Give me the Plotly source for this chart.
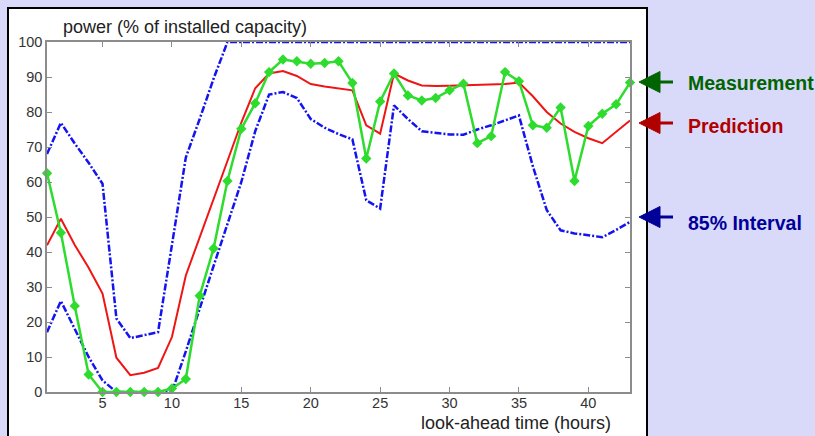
import plotly.graph_objects as go

hours = list(range(1, 44))

measurement = [62.5, 45.5, 24.6, 5.0, 0, 0, 0, 0, 0, 1.0, 3.7, 27.5, 41.0, 60.3, 75.2,
               82.5, 91.4, 95.0, 94.5, 93.8, 94.0, 94.5, 88.3, 66.7, 83.0, 91.0, 84.7,
               83.3, 84.0, 86.2, 88.1, 71.1, 73.1, 91.4, 88.8, 76.2, 75.5, 81.3, 60.3,
               76.0, 79.5, 82.2, 88.4]

prediction = [41.9, 49.5, 42.0, 35.5, 28.1, 9.8, 4.8, 5.5, 6.9, 15.7, 33.3, 44.0, 55.0,
              66.0, 77.0, 86.8, 91.0, 91.7, 90.3, 88.0, 87.3, 86.7, 86.2, 76.2, 73.8,
              91.0, 89.0, 87.6, 87.4, 87.5, 87.6, 87.7, 87.8, 88.0, 88.4, 84.5, 80.0,
              76.7, 74.3, 72.5, 71.1, 74.3, 77.6]

upper = [68.0, 76.9, 71.0, 65.5, 59.5, 21.0, 15.4, 16.2, 17.1, 42.0, 67.0, 78.0, 89.5,
         100, 100, 100, 100, 100, 100, 100, 100, 100, 100, 100, 100, 100, 100, 100,
         100, 100, 100, 100, 100, 100, 100, 100, 100, 100, 100, 100, 100, 100, 100]

lower = [17.1, 26.0, 18.0, 10.0, 3.3, 0, 0, 0, 0, 0, 11.6, 24.0, 36.0, 48.0, 60.0,
         74.5, 85.0, 85.7, 84.0, 78.0, 75.5, 73.7, 72.2, 54.8, 52.4, 81.9, 78.0, 74.5,
         74.0, 73.6, 73.5, 75.0, 76.2, 77.6, 79.0, 64.5, 52.0, 46.2, 45.3, 44.8, 44.2,
         46.3, 48.6]

x_ticks = [5, 10, 15, 20, 25, 30, 35, 40]
y_ticks = [0, 10, 20, 30, 40, 50, 60, 70, 80, 90, 100]

chart_title = "power (% of installed capacity)"
x_title = "look-ahead time (hours)"
labels = ["Measurement", "Prediction", "85% Interval"]
label_colors = ["#006400", "#b00000", "#000099"]

W, H = 815, 436
L, R, T, B = 47, 630, 42, 392
PW, PH = R - L, B - T


def px(x):
    return (x - L) / PW


def py(y):
    return (B - y) / PH


blue = "#1414f0"
dash_pat = "7px,2px,2px,2px"

fig = go.Figure()
fig.add_trace(go.Scatter(x=hours, y=upper, mode="lines",
                         line=dict(color=blue, width=2.5, dash=dash_pat), cliponaxis=False))
fig.add_trace(go.Scatter(x=hours, y=lower, mode="lines",
                         line=dict(color=blue, width=2.5, dash=dash_pat), cliponaxis=False))
fig.add_trace(go.Scatter(x=hours, y=prediction, mode="lines",
                         line=dict(color="#f01515", width=2)))
fig.add_trace(go.Scatter(x=hours, y=measurement, mode="lines+markers",
                         line=dict(color="#2edc2e", width=2.5),
                         marker=dict(symbol="diamond", size=8, color="#2edc2e"),
                         cliponaxis=False))

shapes = [
    dict(type="rect", xref="paper", yref="paper", layer="below",
         x0=px(8), x1=px(647), y0=py(8), y1=py(460),
         fillcolor="white", line=dict(color="black", width=2)),
]

arrow_tips = [82, 123, 217]
text_y = [83, 126, 223]
for tip, col in zip(arrow_tips, label_colors):
    shapes.append(dict(type="path", xref="paper", yref="paper",
                       path=f"M {px(639)},{py(tip)} L {px(660)},{py(tip - 10.5)} "
                            f"L {px(660)},{py(tip + 10.5)} Z",
                       fillcolor=col, line=dict(color=col, width=1)))
    shapes.append(dict(type="line", xref="paper", yref="paper",
                       x0=px(655), x1=px(673), y0=py(tip), y1=py(tip),
                       line=dict(color=col, width=3)))

annotations = [
    dict(text=chart_title, xref="paper", yref="paper", x=px(61), y=py(27),
         xanchor="left", yanchor="middle", showarrow=False,
         font=dict(size=18, color="#222222", family="Liberation Sans, Arial")),
    dict(text=x_title, xref="paper", yref="paper", x=px(613), y=py(423),
         xanchor="right", yanchor="middle", showarrow=False,
         font=dict(size=18, color="#222222", family="Liberation Sans, Arial")),
]
for lab, col, ty in zip(labels, label_colors, text_y):
    annotations.append(dict(text=f"<b>{lab}</b>", xref="paper", yref="paper",
                            x=px(686), y=py(ty), xanchor="left", yanchor="middle",
                            showarrow=False,
                            font=dict(size=19.5, color=col, family="Liberation Sans, Arial")))

axis_common = dict(showgrid=False, zeroline=False, showline=True, linecolor="#8c8c8c",
                   linewidth=1.5, mirror="ticks", ticks="inside", ticklen=5,
                   tickcolor="#8c8c8c", tickwidth=1,
                   tickfont=dict(size=14.5, color="#333333", family="Liberation Sans, Arial"))

fig.update_layout(
    width=W, height=H,
    margin=dict(l=L, r=W - R, t=T, b=H - B, pad=0),
    paper_bgcolor="#d9d9f9",
    plot_bgcolor="white",
    showlegend=False,
    shapes=shapes,
    annotations=annotations,
    xaxis=dict(range=[1, 43], tickvals=x_ticks, ticklabelstandoff=-3, **axis_common),
    yaxis=dict(range=[0, 100], tickvals=y_ticks, **axis_common),
)

fig.write_html("out.html", config={"displayModeBar": False},
               post_script="document.body.style.margin='0';"
                           "document.body.style.overflow='hidden';")
